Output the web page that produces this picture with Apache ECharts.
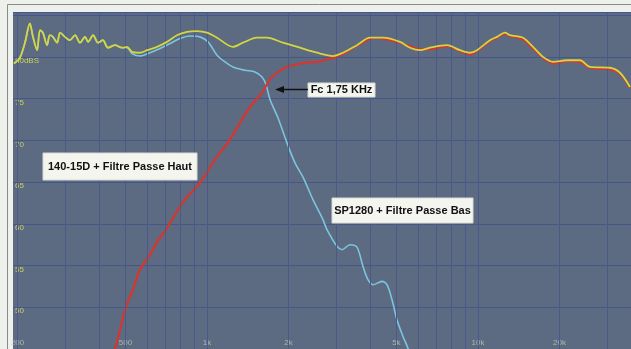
<!DOCTYPE html>
<html><head><meta charset="utf-8">
<script src="https://cdn.jsdelivr.net/npm/echarts@6/dist/echarts.min.js"></script>
<style>html,body{margin:0;padding:0;background:#eef0ec}#c{width:631px;height:349px}</style>
</head><body><div id="c"></div>
<script>
// ---- data (frequency in Hz, level in dB) ----
const yellowFreq = [194,204,213,222,228,236,242,248,257,263,270,280,287,299,312,326,340,355,364,380,396,413,431,458,486,507,529,566,601,654,712,775,844,919,1000,1089,1247,1358,1529,1665,1907,2204,2546,2917,3176,3577,3996,4461,5154,5613,6109,6651,7687,8584,9344,9916,11076,11754,12579,13127,14660,15959,17376,18918,21303,23787,25906,30690,33420,36390];
const yellowDb = [79.2,79.9,81.7,84.0,82.4,80.8,83.2,82.9,81.4,82.6,82.4,81.7,82.9,82.4,82.0,82.6,81.7,82.4,81.8,82.6,81.7,82.0,81.1,81.4,81.1,81.2,80.6,80.5,80.8,81.2,81.8,82.6,83.0,83.1,82.9,82.3,81.2,81.7,82.3,82.3,81.7,81.1,80.5,80.1,80.5,81.4,82.3,82.3,81.8,81.1,80.8,81.1,81.4,80.8,80.5,80.8,82.0,82.4,82.9,82.6,82.3,81.2,80.0,79.4,79.6,79.6,78.8,78.7,78.1,76.4];

const redFreq = [445,458,478,498,533,566,616,654,712,762,829,942,1070,1216,1358,1466,1596,1708,1813,1940,2077,2299,2546,2844,3018,3229,3516,3894,4240,4734,5154,5957,6651,7687,8584,9344,9916,11076,11754,12579,13127,14660,15959,17376,18918,21303,23787,25906,30690,33420,36390];
const redDb = [43.4,45.0,47.3,49.7,52.1,54.5,56.3,57.8,59.5,61.1,62.9,64.9,67.7,70.1,72.7,74.3,75.7,77.3,78.1,78.7,79.0,79.3,79.4,79.8,80.0,80.5,81.2,82.0,82.3,82.0,81.7,81.0,80.9,81.3,80.7,80.3,80.7,81.9,82.3,82.8,82.5,82.1,81.0,79.9,79.2,79.5,79.4,78.7,78.5,78.0,76.3];

const blueFreq = [194,204,213,222,228,236,242,248,257,263,270,280,287,299,312,326,340,355,364,380,396,413,431,458,486,507,529,566,616,671,730,795,866,942,1009,1089,1165,1247,1381,1503,1596,1651,1708,1828,1973,2112,2261,2461,2679,2772,3018,3149,3371,3577,3764,3928,4098,4424,4615,4818,5024,5288,5516,5700];
const blueDb = [79.2,79.9,81.7,84.0,82.4,80.8,83.2,82.9,81.4,82.6,82.4,81.7,82.9,82.4,82.0,82.6,81.7,82.4,81.8,82.6,81.7,82.0,81.1,81.4,81.1,81.1,80.4,80.1,80.5,81.0,81.6,82.2,82.5,82.4,81.8,80.2,79.4,78.8,78.4,78.2,77.6,76.7,74.9,72.7,69.7,67.3,65.6,62.9,60.5,59.3,57.3,56.9,57.5,57.2,54.9,53.3,52.7,53.1,52.7,50.9,48.5,46.5,45.1,43.5];

const tickFreq = [200,500,1000,2000,5000,10000,20000];
const tickLabels = ['200','500','1k','2k','5k','10k','20k'];
const gridFreq = [200,300,400,500,600,700,800,900,1000,2000,3000,4000,5000,6000,7000,8000,9000,10000,20000,30000];

const labelHigh = '140-15D + Filtre Passe Haut';
const labelLow = 'SP1280 + Filtre Passe Bas';
const labelFc = 'Fc 1,75 KHz';

// ---- chart ----
const zip = (a, b) => a.map((v, i) => [v, b[i]]);
const chart = echarts.init(document.getElementById('c'), null, {renderer: 'canvas'});
const FONT = '"Liberation Sans", Arial, sans-serif';
const box = (x, y, w, h, txt) => [
  {type: 'rect', z: 100, zlevel: 1, shape: {x: x, y: y, width: w, height: h}, style: {fill: '#f3f5ee', stroke: '#d8dad4', lineWidth: 1}},
  {type: 'text', z: 101, zlevel: 1, x: x + w / 2, y: y + h / 2, style: {text: txt, fill: '#111', font: 'bold 11px ' + FONT, textAlign: 'center', textVerticalAlign: 'middle'}}
];

chart.setOption({
  animation: false,
  backgroundColor: '#eef0ec',
  grid: {left: 13, top: 12, right: 0, bottom: 0, show: true, backgroundColor: '#5c6a82', borderWidth: 0},
  xAxis: {
    type: 'log', logBase: 10, min: 192.4, max: 36700,
    axisLine: {show: false}, axisTick: {show: false}, axisLabel: {show: false}, splitLine: {show: false}
  },
  yAxis: {
    type: 'value', min: 45, max: 85.38, interval: 5,
    axisLine: {show: false}, axisTick: {show: false},
    axisLabel: {
      inside: true, margin: 2, fontSize: 8, color: '#cdd05a', verticalAlign: 'top', fontFamily: FONT,
      formatter: v => (v === 80 ? '80dBS' : (v >= 50 && v <= 75 && v % 5 === 0 ? String(v) : ''))
    },
    splitLine: {lineStyle: {color: '#46558a', width: 1}}
  },
  series: [
    {
      type: 'scatter', z: 1, silent: true, symbolSize: 0,
      data: tickFreq.map(f => [f, 45.8]),
      label: {show: true, position: 'inside', color: '#c4c8b4', fontSize: 8, fontFamily: FONT,
        formatter: p => tickLabels[p.dataIndex]},
      markLine: {
        silent: true, symbol: 'none', label: {show: false},
        lineStyle: {color: '#4a588a', width: 1, type: 'solid'},
        data: gridFreq.map(f => ({xAxis: f}))
      }
    },
    {type: 'line', z: 3, data: zip(blueFreq, blueDb), showSymbol: false, smooth: 0.3,
      lineStyle: {color: '#7ac6de', width: 1.6}},
    {type: 'line', z: 4, data: zip(redFreq, redDb), showSymbol: false, smooth: 0.3,
      lineStyle: {color: '#d9352c', width: 2.2}},
    {type: 'line', z: 5, data: zip(yellowFreq, yellowDb), showSymbol: false, smooth: 0.3,
      lineStyle: {color: '#d4d63e', width: 1.8}}
  ],
  graphic: [
    {type: 'line', shape: {x1: 7.5, y1: 4.5, x2: 7.5, y2: 349}, style: {stroke: '#8a8c8a', lineWidth: 1}},
    {type: 'line', shape: {x1: 7.5, y1: 4.5, x2: 631, y2: 4.5}, style: {stroke: '#8a8c8a', lineWidth: 1}}
  ].concat(
    box(43, 153, 154, 27, labelHigh),
    box(308, 83, 67, 14, labelFc),
    box(332, 198, 141, 25, labelLow),
    [
      {type: 'line', z: 100, zlevel: 1, shape: {x1: 308, y1: 89.5, x2: 282, y2: 89.5}, style: {stroke: '#111', lineWidth: 1.5}},
      {type: 'polygon', z: 100, zlevel: 1, shape: {points: [[275, 89.5], [284, 86], [284, 93]]}, style: {fill: '#111'}}
    ]
  )
});
</script>
</body></html>
